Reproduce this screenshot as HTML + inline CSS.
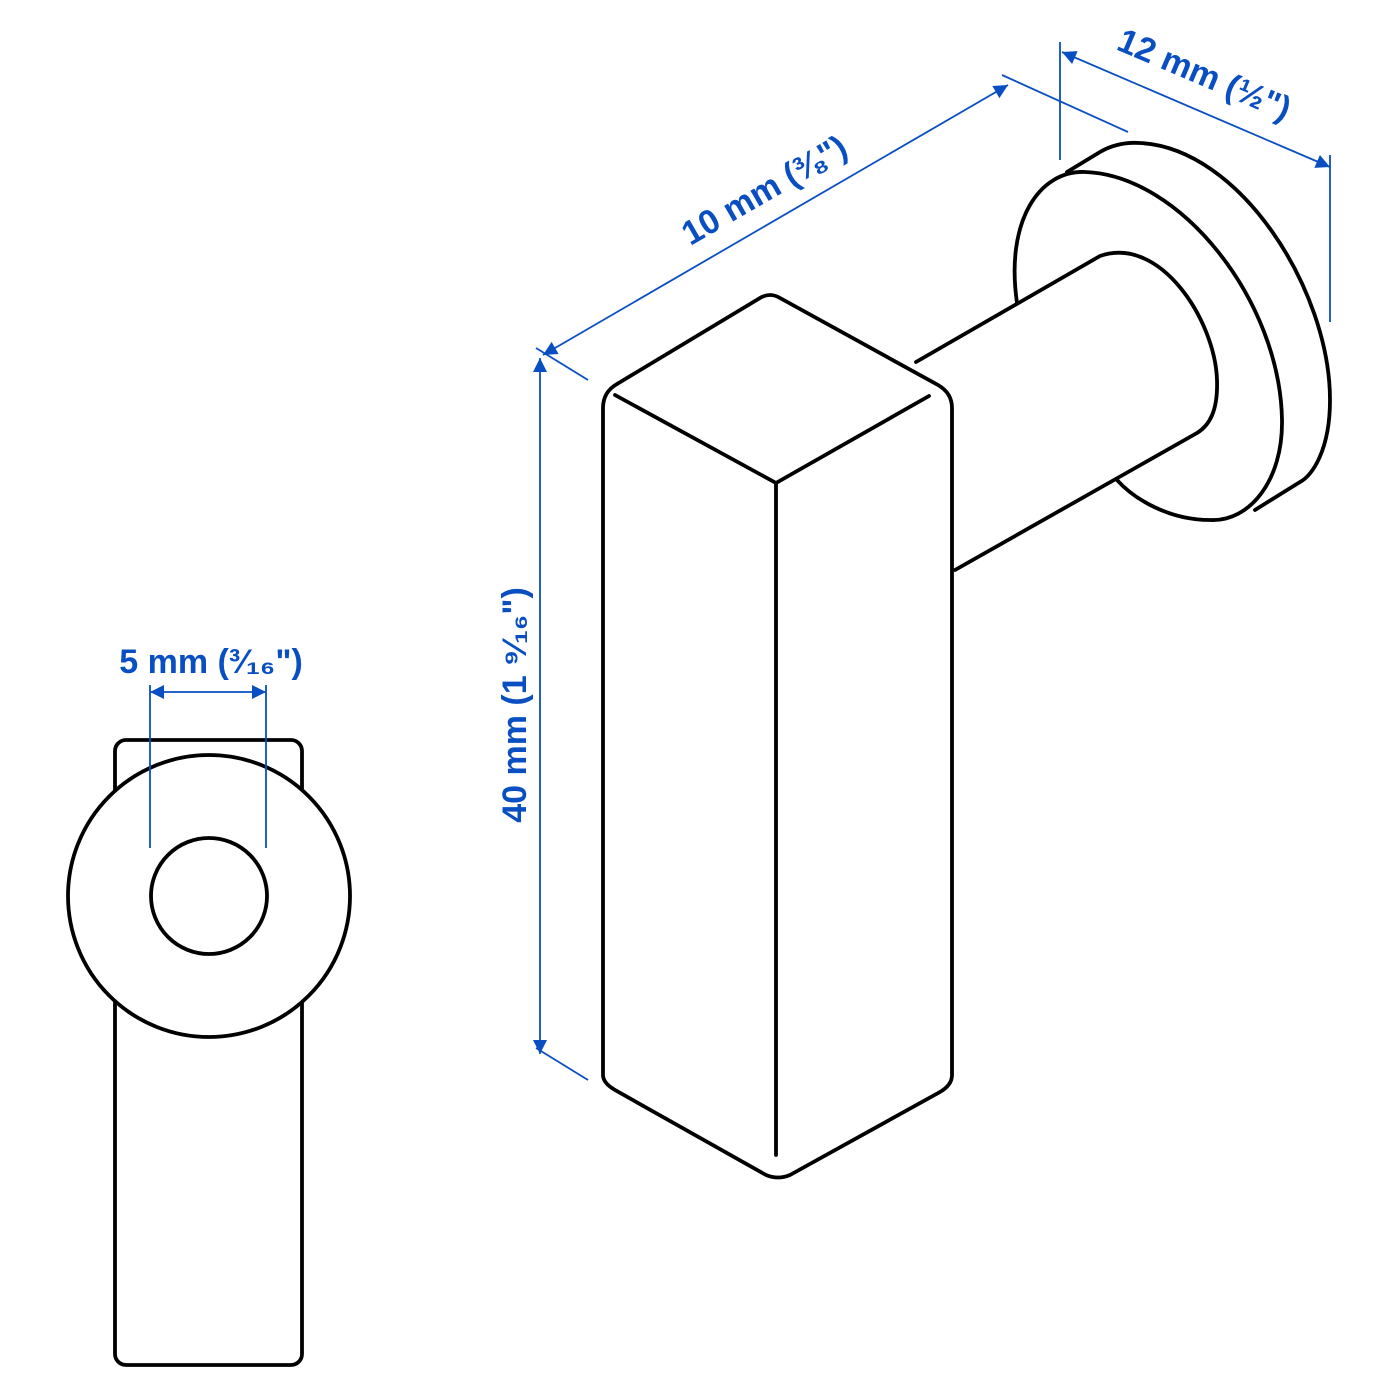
<!DOCTYPE html>
<html><head><meta charset="utf-8"><style>html,body{margin:0;background:#fff}svg{display:block}</style></head>
<body>
<svg width="1400" height="1400" viewBox="0 0 1400 1400" xmlns="http://www.w3.org/2000/svg">
<defs>
<marker id="a" viewBox="0 0 10 10" refX="10" refY="5" markerWidth="20" markerHeight="14" markerUnits="userSpaceOnUse" orient="auto-start-reverse"><path d="M0,0 L10,5 L0,10 z" fill="#0a4fc2"/></marker>
</defs>
<g fill="none" stroke="#000" stroke-width="3.8" stroke-linecap="round" stroke-linejoin="round">
<path d="M1067,172 L1100,152 C1112,145 1125,142 1140,143 C1240,148 1330,290 1330,400 C1330,450 1312,476 1300,482 L1255,510"/>
<path d="M1017,303 C1005,220 1040,170 1085,172 C1180,175 1280,300 1282,420 C1283,480 1250,522 1210,520 C1170,520 1135,500 1117,480"/>
<path d="M916,362 L1100,256 C1160,235 1215,320 1217,380 C1218,410 1210,425 1197,433 L955,570"/>
<path d="M603,1075 L603,408 Q603,392 617,384 L760,298 Q770,292 780,298 L938,385 Q952,393 952,408 L952,1075 Q952,1085 940,1092 L790,1175 Q778,1180 766,1175 L615,1090 Q603,1083 603,1075 Z"/>
<path d="M615,395 L776,483 L929,396 M776,483 L776,1155"/>
<rect x="115" y="740" width="187" height="625" rx="11"/>
<circle cx="209" cy="896" r="141" fill="#fff"/>
<circle cx="209" cy="896" r="58"/>
</g>
<g stroke="#0a4fc2" stroke-width="1.8" fill="none">
<line x1="543" y1="355" x2="1008" y2="85" marker-start="url(#a)" marker-end="url(#a)"/>
<line x1="1002" y1="75" x2="1128" y2="132"/>
<line x1="536" y1="348" x2="588" y2="380"/>
<line x1="536" y1="1048" x2="588" y2="1080"/>
<line x1="1062" y1="52" x2="1330" y2="167" marker-start="url(#a)" marker-end="url(#a)"/>
<line x1="1060" y1="42" x2="1060" y2="160"/>
<line x1="1330" y1="155" x2="1330" y2="322"/>
<line x1="540" y1="358" x2="540" y2="1054" marker-start="url(#a)" marker-end="url(#a)"/>
<line x1="150" y1="685" x2="150" y2="848"/>
<line x1="266" y1="685" x2="266" y2="848"/>
<line x1="150" y1="692" x2="266" y2="692" marker-start="url(#a)" marker-end="url(#a)"/>
</g>
<g fill="#0a4fc2" font-family="Liberation Sans, sans-serif" font-weight="bold" font-size="34" text-anchor="middle">
<text transform="translate(770,200) rotate(-30)">10 mm (⅜")</text>
<text transform="translate(1200,85) rotate(23)">12 mm (½")</text>
<text transform="translate(526,705) rotate(-90)">40 mm (1 ⁹⁄₁₆")</text>
<text x="211" y="673">5 mm (³⁄₁₆")</text>
</g>
</svg>
</body></html>
